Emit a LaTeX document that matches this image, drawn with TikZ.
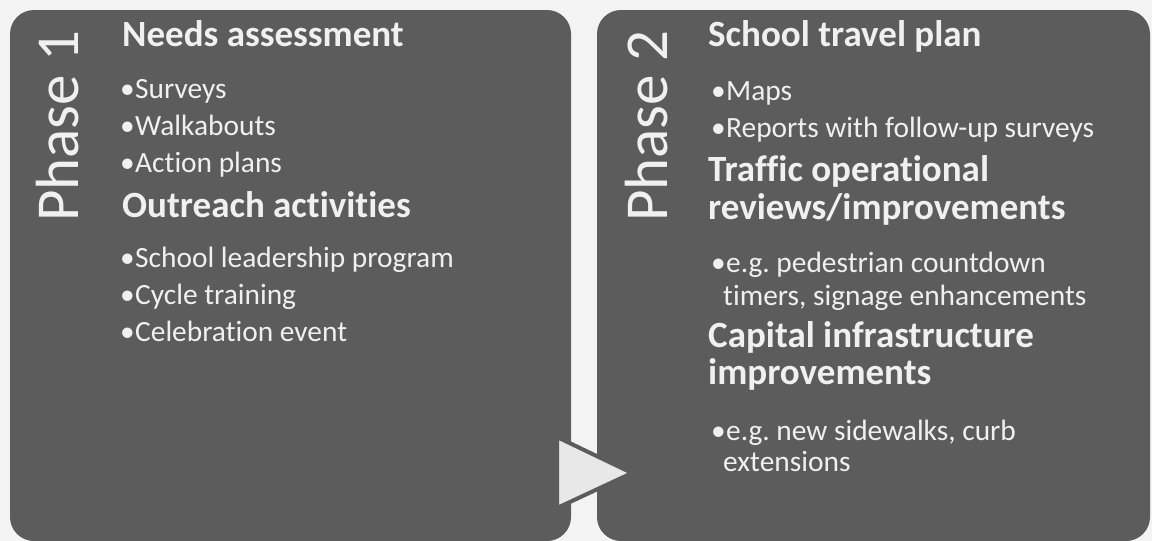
\documentclass[tikz,border=0pt]{standalone}
\usepackage{fontspec}
\setmainfont{Carlito}[RawFeature=-liga]
\newfontfamily\phasefont{Carlito}
\definecolor{bgc}{HTML}{F3F3F3}
\definecolor{boxc}{HTML}{5C5C5C}
\definecolor{txtc}{HTML}{F0F0F0}
\definecolor{arrc}{HTML}{E8E8E8}
\frenchspacing
\begin{document}
\begin{tikzpicture}[x=1pt,y=-1pt,
  panel/.style={fill=boxc, rounded corners=24pt},
  head/.style={anchor=base west, inner sep=0pt, text=txtc, font=\fontsize{37}{40}\selectfont\bfseries},
  item/.style={anchor=base west, inner sep=0pt, text=txtc, font=\fontsize{29.4}{32}\selectfont},
  phase/.style={anchor=base west, inner sep=0pt, rotate=90, text=txtc, font=\phasefont\fontsize{61}{70}\selectfont}]
\useasboundingbox (0,0) rectangle (1152,541);
\fill[bgc] (0,0) rectangle (1152,541);
\fill[panel] (10,10) rectangle (571,541);
\fill[panel] (597,10) rectangle (1150,541);
% arrow
\draw[boxc, line width=4pt, line join=miter, fill=arrc] (557,437) coordinate (t1) -- (632,473) coordinate (t2) -- (557,508) coordinate (t3) -- cycle;
% Phase 1
\node[phase] (p1) at (78,222) {Phase 1};
\node[head] (h1) at (122,46) {Needs assessment};
\node[item] (i11) at (135,98) {\llap{•\kern0.5pt}Surveys};
\node[item] (i12) at (135,135) {\llap{•\kern0.5pt}Walkabouts};
\node[item] (i13) at (135,172) {\llap{•\kern0.5pt}Action plans};
\node[head] (h2) at (122,217) {Outreach activities};
\node[item] (i21) at (135,267) {\llap{•\kern0.5pt}School leadership program};
\node[item] (i22) at (135,304) {\llap{•\kern0.5pt}Cycle training};
\node[item] (i23) at (135,341) {\llap{•\kern0.5pt}Celebration event};
% Phase 2
\node[phase] (p2) at (667,222) {Phase 2};
\node[head] (h3) at (708,46) {School travel plan};
\node[item] (i31) at (726,100) {\llap{•\kern0.5pt}Maps};
\node[item] (i32) at (726,137) {\llap{•\kern0.5pt}Reports with follow-up surveys};
\node[head] (h4) at (708,181) {Traffic operational};
\node[head] (h4b) at (708,219) {reviews/improvements};
\node[item] (i41) at (726,272) {\llap{•\kern0.5pt}e.g. pedestrian countdown};
\node[item] (i41b) at (723,305) {timers, signage enhancements};
\node[head] (h5) at (708,347) {Capital infrastructure};
\node[head] (h5b) at (708,384) {improvements};
\node[item] (i51) at (726,440) {\llap{•\kern0.5pt}e.g. new sidewalks, curb};
\node[item] (i51b) at (723,471) {extensions};
\end{tikzpicture}
\end{document}
